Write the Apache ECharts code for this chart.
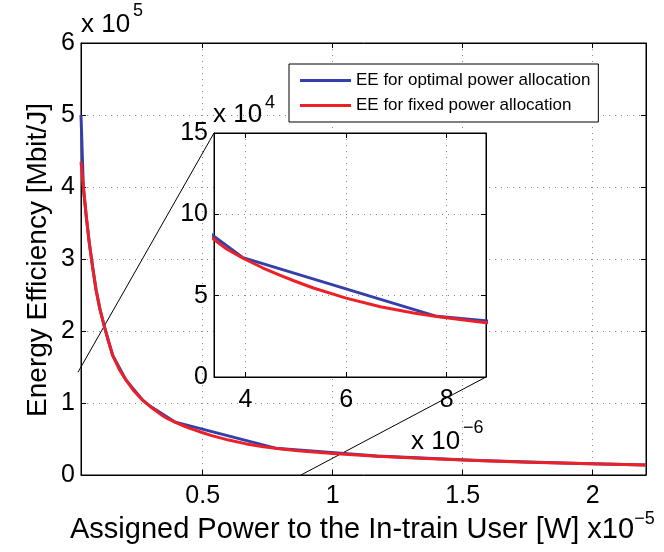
<!DOCTYPE html>
<html>
<head>
<meta charset="utf-8">
<script src="https://cdn.jsdelivr.net/npm/echarts@6/dist/echarts.min.js"></script>
<style>html,body{margin:0;padding:0;background:#fff;}#c{width:664px;height:552px;}</style>
</head>
<body>
<div id="c"></div>
<script>
// x in units of 1e-5 W, EE in units of 1e5 Mbit/J
const powerFixed = [0.032,0.041,0.052,0.064,0.077,0.09,0.105,0.122,0.138,0.154,0.18,0.205,0.235,0.269,0.30,0.3375,0.36,0.395,0.435,0.468,0.50,0.535,0.60,0.668,0.734,0.78,0.83,0.878,1.0,1.17,1.336,1.5,1.75,2.0,2.205];
const eeFixed    = [4.35,4.0,3.6,3.22,2.88,2.57,2.3,2.06,1.85,1.66,1.46,1.32,1.17,1.04,0.945,0.845,0.792,0.730,0.670,0.626,0.587,0.547,0.485,0.432,0.393,0.372,0.352,0.334,0.30,0.262,0.232,0.207,0.178,0.156,0.139];
const powerOpt = [0.032,0.041,0.052,0.064,0.077,0.09,0.105,0.122,0.154,0.205,0.269,0.30,0.395,0.78,1.17,1.56,1.95,2.205];
const eeOpt    = [5.0,4.0,3.6,3.22,2.88,2.57,2.3,2.06,1.66,1.32,1.04,0.95,0.734,0.373,0.263,0.200,0.158,0.139];
const mainXRange = [0.032, 2.205];
const mainYTicks = ['0','1','2','3','4','5','6'];
const insetXRange = [0.3375, 0.878];
const insetYRange = [0, 1.5];
const nameOpt = 'EE for optimal power allocation';
const nameFixed = 'EE for fixed power allocation';

const FONT = "'Liberation Sans', Arial, Helvetica, sans-serif";
const BLUE = '#3440a8';
const RED = '#ec2127';
const fixedData = powerFixed.map((x, i) => [x, eeFixed[i]]);
const optData = powerOpt.map((x, i) => [x, eeOpt[i]]);

const chart = echarts.init(document.getElementById('c'), null, {renderer: 'canvas'});

const grid = [
  {left: 81, top: 43, width: 565, height: 432, show: true, borderColor: '#000', borderWidth: 1, backgroundColor: '#fff', z: 0},
  {left: 214, top: 133, width: 272, height: 244, show: true, borderColor: '#000', borderWidth: 1, backgroundColor: '#fff', z: 5}
];
const splitStyle = {show: true, lineStyle: {color: '#8a8a8a', width: 1, type: [1, 5]}};
function xAx(gi, pos, range, labels, fmt, split, z, margin) {
  return {
    type: 'value', gridIndex: gi, position: pos, min: range[0], max: range[1], splitNumber: gi === 0 ? 5 : 3, z: z,
    axisLine: {show: true, onZero: false, lineStyle: {color: '#000', width: 1}},
    axisTick: {show: true, inside: true, length: 5, lineStyle: {color: '#000'}},
    axisLabel: {show: labels, formatter: fmt, showMinLabel: false, showMaxLabel: false, color: '#000', fontSize: 25, fontFamily: FONT, margin: margin},
    splitLine: split ? splitStyle : {show: false}
  };
}
function yAx(gi, pos, min, max, interval, labels, fmt, split, z) {
  return {
    type: 'value', gridIndex: gi, position: pos, min: min, max: max, interval: interval, z: z,
    axisLine: {show: true, onZero: false, lineStyle: {color: '#000', width: 1}},
    axisTick: {show: true, inside: true, length: 5, lineStyle: {color: '#000'}},
    axisLabel: {show: labels, formatter: fmt, color: '#000', fontSize: 25, fontFamily: FONT, margin: 6},
    splitLine: split ? splitStyle : {show: false}
  };
}
const fmtMainX = v => String(+v.toFixed(1));
const fmtInsetX = v => String(Math.round(v * 10));
const fmtMainY = v => mainYTicks[Math.round(v)];
const fmtInsetY = v => String(Math.round(v * 10));

const option = {
  animation: false,
  backgroundColor: '#fff',
  textStyle: {fontFamily: FONT},
  grid: grid,
  xAxis: [
    xAx(0, 'bottom', mainXRange, true, fmtMainX, true, 1, 9),
    xAx(0, 'top', mainXRange, false, fmtMainX, false, 1, 9),
    xAx(1, 'bottom', insetXRange, true, fmtInsetX, true, 6, 11),
    xAx(1, 'top', insetXRange, false, fmtInsetX, false, 6, 11)
  ],
  yAxis: [
    yAx(0, 'left', 0, 6, 1, true, fmtMainY, true, 1),
    yAx(0, 'right', 0, 6, 1, false, fmtMainY, false, 1),
    yAx(1, 'left', insetYRange[0], insetYRange[1], 0.5, true, fmtInsetY, true, 6),
    yAx(1, 'right', insetYRange[0], insetYRange[1], 0.5, false, fmtInsetY, false, 6)
  ],
  legend: {
    left: 289, top: 64, orient: 'vertical',
    data: [nameOpt, nameFixed],
    icon: 'rect',
    backgroundColor: '#fff', borderColor: '#000', borderWidth: 1,
    padding: [8, 8, 8, 11], itemWidth: 51, itemHeight: 3, itemGap: 8,
    textStyle: {fontSize: 17, color: '#000', fontFamily: FONT},
    z: 8
  },
  series: [
    {name: nameOpt, type: 'line', xAxisIndex: 0, yAxisIndex: 0, data: optData, symbol: 'none', smooth: false, z: 2, lineStyle: {color: BLUE, width: 3}, itemStyle: {color: BLUE}},
    {name: nameFixed, type: 'line', xAxisIndex: 0, yAxisIndex: 0, data: fixedData, symbol: 'none', smooth: false, z: 3, lineStyle: {color: RED, width: 3, join: 'round'}, itemStyle: {color: RED}},
    {name: nameOpt, type: 'line', xAxisIndex: 2, yAxisIndex: 2, data: optData, symbol: 'none', smooth: false, z: 7, lineStyle: {color: BLUE, width: 3}, itemStyle: {color: BLUE}},
    {name: nameFixed, type: 'line', xAxisIndex: 2, yAxisIndex: 2, data: fixedData, symbol: 'none', smooth: false, z: 8, lineStyle: {color: RED, width: 3, join: 'round'}, itemStyle: {color: RED}}
  ]
};
chart.setOption(option);

const p1 = chart.convertToPixel({gridIndex: 0}, [mainXRange[0], insetYRange[1]]);
const p2 = chart.convertToPixel({gridIndex: 1}, [insetXRange[0], insetYRange[1]]);
const p3 = chart.convertToPixel({gridIndex: 0}, [insetXRange[1], insetYRange[0]]);
const p4 = chart.convertToPixel({gridIndex: 1}, [insetXRange[1], insetYRange[0]]);

function txt(x, y, s, size, align) {
  return {type: 'text', x: x, y: y, z: 20, style: {text: s, fontSize: size, fontFamily: FONT, fill: '#000', align: align || 'left', verticalAlign: 'middle'}};
}
chart.setOption({
  graphic: [
    {type: 'line', z: 1, shape: {x1: p1[0] - 3, y1: p1[1] + 5.2, x2: p2[0], y2: p2[1]}, style: {stroke: '#000', lineWidth: 1}},
    {type: 'line', z: 1, shape: {x1: p3[0], y1: p3[1], x2: p4[0], y2: p4[1]}, style: {stroke: '#000', lineWidth: 1}},
    txt(81, 25, 'x 10', 26), txt(133, 11, '5', 18),
    txt(213, 115, 'x 10', 26), txt(265, 103, '4', 18),
    txt(411, 442, 'x 10', 26), txt(463, 428, '\u22126', 18),
    {type: 'text', x: 38, y: 260, rotation: Math.PI / 2, z: 20, style: {text: 'Energy Efficiency [Mbit/J]', fontSize: 28, fontFamily: FONT, fill: '#000', align: 'center', verticalAlign: 'middle'}},
    {type: 'text', x: 70, y: 527, z: 20, style: {
      text: '{a|Assigned Power to the In-train User [W] x10}{b|\u22125}', fill: '#000', align: 'left', verticalAlign: 'middle',
      rich: {a: {fontSize: 29, fontFamily: FONT, fill: '#000', lineHeight: 34, verticalAlign: 'bottom'}, b: {fontSize: 18, fontFamily: FONT, fill: '#000', lineHeight: 34, verticalAlign: 'top', padding: [0, 0, 14, 0]}}
    }}
  ]
});
</script>
</body>
</html>
